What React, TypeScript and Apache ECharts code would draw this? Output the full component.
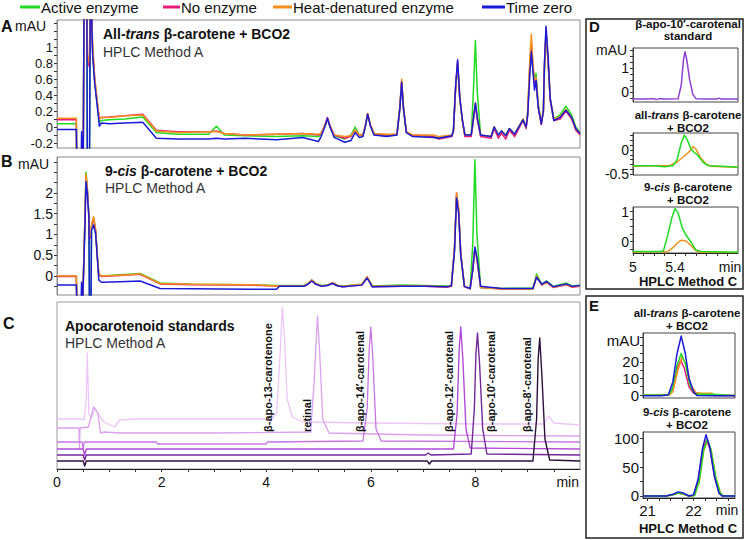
import React, { useEffect, useRef } from "react";
import * as echarts from "echarts";

// ---------------- legend / series ----------------
const seriesNames = ["Active enzyme", "No enzyme", "Heat-denatured enzyme", "Time zero"];
const seriesColors = ["#20dc20", "#ec1a78", "#f5901e", "#1a1ad8"];

// ---------------- Panel A : all-trans β-carotene + BCO2 ----------------
const timesA = [
  0, 0.37, 0.38, 0.46, 0.47, 0.5, 0.52, 0.57, 0.58, 0.62, 0.64, 0.68, 0.72, 0.78, 0.81, 0.85,
  1.0, 1.3, 1.64, 1.9, 2.3, 2.9, 3.05, 3.2, 3.6, 4.2, 4.7, 5.0,
  5.05, 5.12, 5.17, 5.22, 5.3, 5.5, 5.62, 5.7, 5.78, 5.85, 5.9, 5.94, 5.99, 6.06,
  6.3, 6.5, 6.555, 6.59, 6.625, 6.68, 6.8, 7.2, 7.3, 7.55,
  7.58, 7.62, 7.66, 7.7, 7.75, 7.8, 7.92, 7.965, 8.0, 8.035, 8.1,
  8.3, 8.36, 8.44, 8.5, 8.58, 8.65, 8.75, 8.91, 8.97,
  9.0, 9.04, 9.07, 9.1, 9.13, 9.16, 9.2, 9.26, 9.3, 9.32, 9.35, 9.39, 9.43, 9.5,
  9.62, 9.73, 9.84, 9.92, 10.0,
];
const activeA = [
  0.04, 0.04, -0.6, -0.6, -0.6, -0.6, 2, 2, -0.6, -0.6, 2, 0.95, 0.58, 0.22, 0.06, 0.08,
  0.09, 0.1, 0.125, -0.07, -0.09, -0.09, 0.01, -0.1, -0.11, -0.12, -0.11, -0.12,
  -0.1, 0.0, 0.1, 0.0, -0.11, -0.15, -0.1, 0.0, -0.1, -0.1, 0.02, 0.15, 0.02, -0.09,
  -0.11, -0.1, 0.22, 0.56, 0.22, -0.07, -0.11, -0.12, -0.13, -0.11,
  -0.05, 0.45, 0.78, 0.36, 0.08, -0.11, -0.11, 0.5, 1.08, 0.45, -0.11,
  -0.12, 0.0, -0.11, -0.05, -0.1, -0.02, -0.09, 0.1, 0.0,
  0.2, 0.75, 1.0, 0.72, 0.62, 0.67, 0.3, 0.06, 0.2, 0.7, 1.15, 0.8, 0.35, 0.1,
  0.15, 0.26, 0.15, 0.0, -0.07,
];
const noEnzA = [
  0.09, 0.09, -0.6, -0.6, -0.6, -0.6, 2, 2, 0.85, 0.75, 2, 1.0, 0.6, 0.25, 0.1, 0.12,
  0.125, 0.14, 0.16, -0.04, -0.06, -0.06, -0.05, -0.08, -0.1, -0.09, -0.08, -0.1,
  -0.08, 0.02, 0.12, 0.02, -0.1, -0.14, -0.12, -0.04, -0.1, -0.1, 0.03, 0.17, 0.03, -0.08,
  -0.1, -0.09, 0.24, 0.57, 0.24, -0.06, -0.1, -0.12, -0.15, -0.12,
  -0.06, 0.48, 0.82, 0.37, 0.08, -0.12, -0.12, 0.1, 0.28, 0.1, -0.12,
  -0.14, -0.02, -0.14, -0.08, -0.15, -0.04, -0.12, 0.08, -0.02,
  0.15, 0.75, 1.05, 0.75, 0.55, 0.6, 0.25, 0.03, 0.2, 0.75, 1.2, 0.82, 0.33, 0.08,
  0.1, 0.2, 0.1, -0.04, -0.1,
];
const heatA = [
  0.11, 0.11, -0.6, -0.6, -0.6, -0.6, 2, 2, 0.9, 0.8, 2, 1.05, 0.62, 0.26, 0.1, 0.12,
  0.12, 0.14, 0.15, -0.05, -0.07, -0.06, -0.06, -0.08, -0.1, -0.09, -0.08, -0.09,
  -0.08, 0.01, 0.1, 0.01, -0.1, -0.12, -0.11, -0.04, -0.1, -0.1, 0.03, 0.17, 0.03, -0.08,
  -0.09, -0.09, 0.25, 0.6, 0.25, -0.06, -0.1, -0.1, -0.12, -0.1,
  -0.05, 0.46, 0.8, 0.36, 0.08, -0.1, -0.1, 0.12, 0.3, 0.12, -0.1,
  -0.12, 0.0, -0.1, -0.05, -0.11, -0.02, -0.09, 0.1, 0.0,
  0.2, 0.85, 1.16, 0.8, 0.58, 0.62, 0.28, 0.05, 0.2, 0.75, 1.2, 0.84, 0.36, 0.1,
  0.13, 0.22, 0.12, -0.02, -0.08,
];
const zeroA = [
  -0.03, -0.03, -0.6, -0.6, -0.06, -0.6, 2, 2, -0.6, -0.6, 2, 0.92, 0.55, 0.2, 0.01, 0.05,
  0.04, 0.05, 0.06, -0.14, -0.15, -0.15, -0.14, -0.15, -0.14, -0.16, -0.13, -0.18,
  -0.12, 0.0, 0.11, 0.0, -0.13, -0.19, -0.17, -0.07, -0.13, -0.12, 0.02, 0.16, 0.02, -0.1,
  -0.12, -0.1, 0.23, 0.56, 0.23, -0.07, -0.12, -0.13, -0.14, -0.11,
  -0.04, 0.5, 0.84, 0.38, 0.1, -0.1, -0.1, 0.12, 0.3, 0.12, -0.1,
  -0.12, 0.0, -0.1, -0.05, -0.11, -0.02, -0.09, 0.09, 0.0,
  0.15, 0.65, 0.94, 0.7, 0.46, 0.58, 0.25, 0.04, 0.2, 0.8, 1.26, 0.88, 0.36, 0.08,
  0.12, 0.21, 0.12, -0.02, -0.08,
];
const yTicksA = [-0.2, -0.1, 0, 0.1, 0.2, 0.3, 0.4, 0.5, 0.6, 0.7, 0.8, 0.9, 1, 1.1, 1.2, 1.3];
const yLabelsA = [-0.2, 0, 0.2, 0.4, 0.6, 0.8, 1];

// ---------------- Panel B : 9-cis β-carotene + BCO2 ----------------
const timesB = [
  0, 0.37, 0.38, 0.46, 0.47, 0.49, 0.53, 0.555, 0.58, 0.61, 0.62, 0.65, 0.66, 0.7, 0.74, 0.77, 0.8, 0.85,
  1.2, 1.59, 1.97, 2.6, 3.7, 4.2, 4.25, 4.72, 4.8, 4.87, 4.95, 5.06,
  5.17, 5.27, 5.37, 5.47, 5.83, 5.93, 6.03, 6.58, 7.05, 7.45,
  7.54, 7.6, 7.64, 7.68, 7.72, 7.79, 7.9, 7.95, 7.99, 8.03, 8.1,
  8.5, 9.1, 9.17, 9.27, 9.36, 9.49, 9.74, 9.85, 10.0,
];
const activeB = [
  0.0, 0.0, -0.7, -0.7, -0.7, -0.7, 1.2, 2.5, 2.1, 1.45, -0.7, -0.7, 1.2, 1.4, 1.08, 0.48, 0.03, 0.0,
  0.03, 0.06, -0.17, -0.2, -0.21, -0.23, -0.23, -0.23, -0.17, -0.1, -0.18, -0.23,
  -0.22, -0.16, -0.23, -0.24, -0.2, -0.02, -0.24, -0.22, -0.23, -0.24,
  -0.24, 0.6, 1.95, 1.55, 0.5, -0.25, -0.3, 0.8, 2.8, 1.0, -0.28,
  -0.3, -0.29, 0.05, -0.2, -0.12, -0.25, -0.17, -0.24, -0.22,
];
const noEnzB = [
  -0.01, -0.01, -0.7, -0.7, -0.7, -0.7, 1.15, 2.4, 2.05, 1.42, 0.9, 0.95, 1.2, 1.4, 1.08, 0.48, 0.03, -0.01,
  0.01, 0.04, -0.19, -0.21, -0.22, -0.24, -0.24, -0.25, -0.19, -0.1, -0.19, -0.25,
  -0.22, -0.16, -0.24, -0.26, -0.21, -0.02, -0.26, -0.25, -0.25, -0.27,
  -0.25, 0.65, 2.0, 1.6, 0.55, -0.26, -0.31, 0.15, 0.66, 0.4, -0.28,
  -0.31, -0.31, -0.02, -0.22, -0.15, -0.28, -0.21, -0.27, -0.25,
];
const heatB = [
  0.0, 0.0, -0.7, -0.7, -0.7, -0.7, 1.2, 2.46, 2.1, 1.45, 0.95, 1.0, 1.25, 1.43, 1.1, 0.5, 0.05, 0.0,
  0.02, 0.05, -0.18, -0.2, -0.21, -0.24, -0.24, -0.24, -0.18, -0.1, -0.18, -0.24,
  -0.22, -0.16, -0.23, -0.25, -0.2, -0.02, -0.25, -0.24, -0.24, -0.26,
  -0.24, 0.7, 2.0, 1.6, 0.55, -0.25, -0.3, 0.15, 0.67, 0.4, -0.28,
  -0.32, -0.32, 0.0, -0.22, -0.15, -0.27, -0.2, -0.26, -0.24,
];
const zeroB = [
  -0.22, -0.22, -0.7, -0.7, -0.15, -0.7, 1.0, 2.27, 2.0, 1.4, -0.7, -0.7, 1.1, 1.23, 1.0, 0.45, -0.1, -0.15,
  -0.14, -0.12, -0.3, -0.31, -0.32, -0.32, -0.25, -0.25, -0.2, -0.12, -0.2, -0.25,
  -0.23, -0.18, -0.24, -0.26, -0.22, -0.05, -0.26, -0.25, -0.25, -0.26,
  -0.24, 0.6, 1.88, 1.5, 0.5, -0.25, -0.3, 0.15, 0.7, 0.45, -0.25,
  -0.3, -0.3, -0.03, -0.2, -0.13, -0.26, -0.19, -0.25, -0.23,
];
const yTicksB = [-0.25, 0, 0.25, 0.5, 0.75, 1, 1.25, 1.5, 1.75, 2, 2.25, 2.5, 2.75];
const yLabelsB = [0, 0.5, 1, 1.5, 2];

// ---------------- Panel C : apocarotenoid standards (stacked traces) ----------------
const standardNames = [
  "β-apo-13-carotenone", "retinal", "β-apo-14′-carotenal",
  "β-apo-12′-carotenal", "β-apo-10′-carotenal", "β-apo-8′-carotenal",
];
const timesC13 = [0, 0.45, 0.52, 0.56, 0.58, 0.61, 0.66, 0.73, 0.8, 0.9, 1.1, 1.2, 1.5, 3.0, 4.1, 4.2, 4.26, 4.31, 4.35, 4.4, 4.5, 4.7, 6, 8, 9.3, 9.4, 9.5, 10];
const valuesC13 = [50, 50, 49, 70, 116, 55, 51, 61, 54, 47, 42, 49, 50, 50, 50, 56, 110, 162, 130, 70, 52, 47, 46, 45, 45, 53, 46, 44];
const timesCret = [0, 0.42, 0.43, 0.44, 0.6, 0.7, 0.78, 0.83, 0.9, 1.2, 3, 4.85, 4.92, 4.98, 5.02, 5.08, 5.2, 7, 10];
const valuesCret = [41, 41, 20, 41, 42, 62, 56, 36, 37, 36, 36, 37, 90, 153, 120, 50, 36, 34, 33];
const timesC14 = [0, 0.48, 0.5, 0.52, 1.9, 1.92, 4.0, 4.02, 5.85, 5.93, 5.97, 6.0, 6.04, 6.1, 6.2, 10];
const valuesC14 = [27, 27, 20, 27, 27, 25, 25, 27, 28, 60, 120, 142, 110, 40, 28, 27];
const timesC12 = [0, 0.5, 0.53, 0.56, 7.58, 7.65, 7.69, 7.72, 7.76, 7.82, 7.9, 10];
const valuesC12 = [20, 20, 14, 20, 20, 55, 120, 142, 110, 40, 21, 20];
const timesC10 = [0, 0.5, 0.53, 0.56, 7.05, 7.1, 7.15, 7.92, 7.98, 8.01, 8.04, 8.08, 8.14, 8.22, 10];
const valuesC10 = [14, 14, 9, 14, 14, 16, 14, 15, 60, 115, 136, 105, 40, 15, 14];
const timesC8 = [0, 0.5, 0.53, 0.56, 7.08, 7.12, 7.16, 9.1, 9.17, 9.2, 9.23, 9.27, 9.33, 9.42, 10];
const valuesC8 = [8, 8, 3, 8, 8, 5, 8, 8, 50, 110, 131, 95, 30, 9, 8];
const standardColors = ["#edc6f8", "#dba0ee", "#c773e2", "#b24bd8", "#73289a", "#2c0f3c"];
const xLabelsC = [0, 2, 4, 6, 8];
const xTicksC = [0, 0.5, 1, 1.5, 2, 2.5, 3, 3.5, 4, 4.5, 5, 5.5, 6, 6.5, 7, 7.5, 8, 8.5, 9, 9.5];

// ---------------- Panel D : HPLC Method C, 5–6 min ----------------
const timesD1 = [5.0, 5.1, 5.2, 5.22, 5.25, 5.3, 5.43, 5.46, 5.48, 5.495, 5.51, 5.54, 5.57, 5.6, 5.7, 5.8, 5.82, 5.84, 6.0];
const valuesD1 = [-0.3, -0.3, -0.28, -0.32, -0.28, -0.3, -0.28, 0.3, 1.3, 1.67, 1.4, 0.5, -0.1, -0.28, -0.3, -0.3, -0.26, -0.3, -0.3];
const timesD2Active = [5.0, 5.2, 5.3, 5.38, 5.42, 5.46, 5.49, 5.52, 5.55, 5.58, 5.62, 5.67, 5.72, 5.85, 6.0];
const valuesD2Active = [-0.33, -0.33, -0.35, -0.33, -0.2, 0.15, 0.31, 0.2, 0.03, -0.04, -0.12, -0.26, -0.33, -0.34, -0.36];
const timesD2Heat = [5.0, 5.2, 5.35, 5.42, 5.48, 5.53, 5.57, 5.6, 5.64, 5.7, 5.75, 5.85, 6.0];
const valuesD2Heat = [-0.34, -0.33, -0.32, -0.25, -0.14, -0.05, 0.07, 0.02, -0.15, -0.3, -0.34, -0.35, -0.36];
const timesD3Active = [5.0, 5.25, 5.29, 5.33, 5.37, 5.4, 5.43, 5.47, 5.5, 5.55, 5.6, 5.65, 6.0];
const valuesD3Active = [-0.33, -0.33, -0.3, 0.2, 0.8, 1.11, 0.95, 0.45, 0.25, 0.0, -0.28, -0.33, -0.35];
const timesD3Heat = [5.0, 5.33, 5.38, 5.43, 5.46, 5.5, 5.55, 5.6, 5.65, 6.0];
const valuesD3Heat = [-0.34, -0.33, -0.2, -0.02, 0.05, 0.03, -0.12, -0.3, -0.35, -0.36];
const yTicksD1 = [-0.25, 0, 0.25, 0.5, 0.75, 1, 1.25, 1.5, 1.75];
const yLabelsD1 = [0, 1];
const yTicksD2 = [-0.5, -0.4, -0.3, -0.2, -0.1, 0, 0.1, 0.2, 0.3];
const yLabelsD2 = [-0.5, 0];
const yTicksD3 = [-0.25, 0, 0.25, 0.5, 0.75, 1];
const yLabelsD3 = [0, 1];
const xTicksD = [5, 5.1, 5.2, 5.3, 5.4, 5.5, 5.6, 5.7, 5.8, 5.9];
const xLabelsD = [5, 5.4];

// ---------------- Panel E : HPLC Method C, 21–23 min ----------------
const timesE1Zero = [20.9, 21.3, 21.45, 21.55, 21.64, 21.73, 21.82, 21.9, 22.0, 22.07, 22.4, 22.9];
const valuesE1Zero = [-0.5, -0.5, 0, 8, 25, 35.5, 25, 10, 2, -0.3, -0.5, -0.5];
const timesE1Active = [20.9, 21.45, 21.53, 21.63, 21.73, 21.82, 21.92, 22.02, 22.1, 22.4, 22.9];
const valuesE1Active = [0, 0, 3, 17, 25, 19, 6, 1, 0.5, 0.5, -0.3];
const timesE1Heat = [20.9, 21.47, 21.55, 21.65, 21.75, 21.84, 21.94, 22.05, 22.15, 22.4, 22.45, 22.9];
const valuesE1Heat = [0, 0, 2, 14, 23, 18, 6, 1.5, 1, 1, -0.3, -0.3];
const timesE1NoEnz = [20.9, 21.45, 21.53, 21.63, 21.72, 21.8, 21.9, 22.0, 22.1, 22.4, 22.45, 22.9];
const valuesE1NoEnz = [0, 0, 3, 15, 21, 16, 5, 1, 0.8, 0.8, -0.3, -0.3];
const timesE2Zero = [20.9, 21.4, 21.55, 21.66, 21.78, 21.9, 22.0, 22.1, 22.2, 22.27, 22.35, 22.45, 22.55, 22.62, 22.9];
const valuesE2Zero = [0, 0, 3, 7, 5, 0, 2, 30, 85, 106, 85, 35, 5, 0, 0];
const timesE2Active = [20.9, 21.4, 21.55, 21.67, 21.8, 21.92, 22.02, 22.12, 22.22, 22.3, 22.38, 22.48, 22.58, 22.65, 22.9];
const valuesE2Active = [0, 0, 2, 5, 3, 0, 1, 25, 80, 98, 80, 32, 5, 0, 0];
const valuesE2Heat = [0, 0, 2, 5, 3, 0, 1, 24, 78, 96, 80, 33, 6, 0, 0];
const timesE2NoEnz = [20.9, 21.4, 21.55, 21.66, 21.78, 21.9, 22.0, 22.1, 22.2, 22.28, 22.36, 22.46, 22.56, 22.63, 22.9];
const valuesE2NoEnz = [0, 0, 2, 5, 3, 0, 1, 26, 82, 97, 80, 32, 5, 0, 0];
const yTicksE1 = [0, 5, 10, 15, 20, 25, 30, 35];
const yLabelsE1 = [0, 10, 20];
const yTicksE2 = [0, 25, 50, 75, 100];
const yLabelsE2 = [0, 50, 100];
const xTicksE = [21, 21.25, 21.5, 21.75, 22, 22.25, 22.5, 22.75];
const xLabelsE = [21, 22];

// ---------------- helpers ----------------
const F = '"Liberation Sans", Arial, Helvetica, sans-serif';
const pts = (t: number[], v: number[]) => t.map((x, i) => [x, v[i]]);

function yAxis(grid: number, min: number, max: number, ticks: number[] | null, labels: number[] | null, fontSize: number, lineColor: string, margin = 3): any {
  if (!ticks) return { type: "value", gridIndex: grid, min, max, show: false };
  return {
    type: "value", gridIndex: grid, min, max,
    axisLine: { show: true, lineStyle: { color: lineColor, width: 1 } },
    axisTick: { show: true, inside: false, length: 3, customValues: ticks, lineStyle: { color: "#333", width: 1 } },
    axisLabel: { show: true, customValues: labels, fontSize, fontFamily: F, color: "#111", margin, formatter: (v: number) => String(v) },
    splitLine: { show: false },
  };
}
function xAxis(grid: number, min: number, max: number, ticks: number[] | null, labels: number[] | null, fontSize = 14, margin = 6): any {
  if (!ticks) return { type: "value", gridIndex: grid, min, max, show: false };
  return {
    type: "value", gridIndex: grid, min, max,
    axisLine: { show: true, onZero: false, lineStyle: { color: "#222", width: 1 } },
    axisTick: { show: true, inside: false, length: 3, customValues: ticks, lineStyle: { color: "#333", width: 1 } },
    axisLabel: { show: true, customValues: labels, fontSize, fontFamily: F, color: "#111", margin, formatter: (v: number) => String(v) },
    splitLine: { show: false },
  };
}
function line(idx: number, name: string, data: number[][], color: string, width = 1.2, z = 2): any {
  return {
    type: "line", name, xAxisIndex: idx, yAxisIndex: idx, data,
    showSymbol: false, symbol: "none", silent: true, clip: true, z,
    lineStyle: { color, width, join: "round" }, itemStyle: { color }, emphasis: { disabled: true },
  };
}
function txt(x: number, y: number, text: string, o: any = {}): any {
  const align = o.align || "left";
  return {
    type: "text", x, y, silent: true, rotation: o.rot || 0, z: 10,
    style: {
      text, fontFamily: F, fontSize: o.size || 14, fontWeight: o.weight || "normal",
      fontStyle: o.style || "normal", fill: o.color || "#111",
      align, textAlign: align, verticalAlign: "middle", textVerticalAlign: "middle",
      rich: o.rich,
    },
  };
}
const richStyles = (size: number) => ({
  b: { fontFamily: F, fontSize: size, fontWeight: "bold", fill: "#111", color: "#111" },
  bi: { fontFamily: F, fontSize: size, fontWeight: "bold", fontStyle: "italic", fill: "#111", color: "#111" },
});

function buildOption(): any {
  const grids = [
    { left: 57, top: 20, width: 523, height: 128, border: "#8c8c8c" }, // A
    { left: 57, top: 157, width: 523, height: 138, border: "#8c8c8c" }, // B
    { left: 57, top: 302, width: 523, height: 167, border: "#9a9a9a" }, // C
    { left: 633, top: 48, width: 105, height: 54, border: "#444" }, // D1
    { left: 633, top: 133, width: 105, height: 42, border: "#444" }, // D2
    { left: 633, top: 207, width: 105, height: 46, border: "#444" }, // D3
    { left: 643, top: 333, width: 92, height: 65, border: "#444" }, // E1
    { left: 643, top: 432, width: 92, height: 66, border: "#444" }, // E2
  ];
  const [cA, cN, cH, cZ] = [seriesColors[0], seriesColors[1], seriesColors[2], seriesColors[3]];

  const series: any[] = [
    // A
    line(0, seriesNames[0], pts(timesA, activeA), cA, 1.5),
    line(0, seriesNames[1], pts(timesA, noEnzA), cN, 1.5),
    line(0, seriesNames[2], pts(timesA, heatA), cH, 1.5),
    line(0, seriesNames[3], pts(timesA, zeroA), cZ, 1.5),
    // B
    line(1, seriesNames[0], pts(timesB, activeB), cA, 1.5),
    line(1, seriesNames[1], pts(timesB, noEnzB), cN, 1.5),
    line(1, seriesNames[2], pts(timesB, heatB), cH, 1.5),
    line(1, seriesNames[3], pts(timesB, zeroB), cZ, 1.5),
    // C
    line(2, standardNames[0], pts(timesC13, valuesC13), standardColors[0], 1.3),
    line(2, standardNames[1], pts(timesCret, valuesCret), standardColors[1], 1.3),
    line(2, standardNames[2], pts(timesC14, valuesC14), standardColors[2], 1.3),
    line(2, standardNames[3], pts(timesC12, valuesC12), standardColors[3], 1.4),
    line(2, standardNames[4], pts(timesC10, valuesC10), standardColors[4], 1.4),
    line(2, standardNames[5], pts(timesC8, valuesC8), standardColors[5], 1.4),
    // D
    line(3, "β-apo-10′-carotenal standard", pts(timesD1, valuesD1), "#8e3fd2", 1.5),
    line(4, seriesNames[2], pts(timesD2Heat, valuesD2Heat), cH, 1.5),
    line(4, seriesNames[0], pts(timesD2Active, valuesD2Active), cA, 1.5),
    line(5, seriesNames[2], pts(timesD3Heat, valuesD3Heat), cH, 1.5),
    line(5, seriesNames[0], pts(timesD3Active, valuesD3Active), cA, 1.5),
    // E
    line(6, seriesNames[1], pts(timesE1NoEnz, valuesE1NoEnz), cN, 1.5),
    line(6, seriesNames[2], pts(timesE1Heat, valuesE1Heat), cH, 1.5),
    line(6, seriesNames[0], pts(timesE1Active, valuesE1Active), cA, 1.5),
    line(6, seriesNames[3], pts(timesE1Zero, valuesE1Zero), cZ, 1.5),
    line(7, seriesNames[1], pts(timesE2NoEnz, valuesE2NoEnz), cN, 1.5),
    line(7, seriesNames[2], pts(timesE2Active, valuesE2Heat), cH, 1.5),
    line(7, seriesNames[0], pts(timesE2Active, valuesE2Active), cA, 1.5),
    line(7, seriesNames[3], pts(timesE2Zero, valuesE2Zero), cZ, 1.5),
  ];

  const graphics: any[] = [];
  // legend
  const legendX = [20, 163, 273, 482];
  const legendLen = [20, 17, 19, 23];
  seriesNames.forEach((n, i) => {
    graphics.push({ type: "line", silent: true, shape: { x1: legendX[i], y1: 7, x2: legendX[i] + legendLen[i], y2: 7 }, style: { stroke: seriesColors[i], lineWidth: 3 } });
    graphics.push(txt(legendX[i] + legendLen[i] + 1, 7, n, { size: 15 }));
  });
  // panel letters / unit labels
  graphics.push(txt(1, 26, "A", { size: 16, weight: "bold" }));
  graphics.push(txt(15, 26, "mAU", { size: 14 }));
  graphics.push(txt(1, 161, "B", { size: 16, weight: "bold" }));
  graphics.push(txt(18, 164, "mAU", { size: 14 }));
  graphics.push(txt(3, 323, "C", { size: 16, weight: "bold" }));
  graphics.push(txt(589, 26, "D", { size: 15, weight: "bold" }));
  graphics.push(txt(589, 305, "E", { size: 15, weight: "bold" }));
  // titles
  graphics.push(txt(103, 34, "{b|All-}{bi|trans}{b| β-carotene + BCO2}", { rich: richStyles(14) }));
  graphics.push(txt(103, 52, "HPLC Method A", { size: 14, color: "#333" }));
  graphics.push(txt(105, 171, "{b|9-}{bi|cis}{b| β-carotene + BCO2}", { rich: richStyles(14) }));
  graphics.push(txt(105, 188, "HPLC Method A", { size: 14, color: "#333" }));
  graphics.push(txt(65, 326, "Apocarotenoid standards", { size: 14, weight: "bold" }));
  graphics.push(txt(65, 343, "HPLC Method A", { size: 14, color: "#333" }));
  graphics.push(txt(579, 482, "min", { size: 14, align: "right" }));
  // standard labels (rotated)
  const stdLabelX = [268, 307, 360, 449, 491, 527];
  standardNames.forEach((n, i) => {
    graphics.push(txt(stdLabelX[i], 432, n, { size: 11, weight: "bold", rot: Math.PI / 2 }));
  });
  // D / E boxes
  graphics.push({ type: "rect", silent: true, shape: { x: 586, y: 19, width: 157, height: 270 }, style: { fill: "none", stroke: "#222", lineWidth: 1.5 } });
  graphics.push({ type: "rect", silent: true, shape: { x: 586, y: 296, width: 157, height: 242 }, style: { fill: "none", stroke: "#222", lineWidth: 1.5 } });
  graphics.push(txt(688, 24, "β-apo-10′-carotenal", { size: 11.5, weight: "bold", align: "center" }));
  graphics.push(txt(688, 36, "standard", { size: 11.5, weight: "bold", align: "center" }));
  graphics.push(txt(596, 50, "mAU", { size: 14 }));
  graphics.push(txt(688, 115, "{b|all-}{bi|trans}{b| β-carotene}", { align: "center", rich: richStyles(11.5) }));
  graphics.push(txt(688, 128, "+ BCO2", { size: 11.5, weight: "bold", align: "center" }));
  graphics.push(txt(688, 187, "{b|9-}{bi|cis}{b| β-carotene}", { align: "center", rich: richStyles(11.5) }));
  graphics.push(txt(688, 200, "+ BCO2", { size: 11.5, weight: "bold", align: "center" }));
  graphics.push(txt(730, 267, "min", { size: 14, align: "center" }));
  graphics.push(txt(688, 281, "HPLC Method C", { size: 13, weight: "bold", align: "center" }));
  // E texts
  graphics.push(txt(687, 313, "{b|all-}{bi|trans}{b| β-carotene}", { align: "center", rich: richStyles(11.5) }));
  graphics.push(txt(687, 326, "+ BCO2", { size: 11.5, weight: "bold", align: "center" }));
  graphics.push(txt(640, 340, "mAU", { size: 15, align: "right" }));
  graphics.push(txt(687, 412, "{b|9-}{bi|cis}{b| β-carotene}", { align: "center", rich: richStyles(11.5) }));
  graphics.push(txt(687, 425, "+ BCO2", { size: 11.5, weight: "bold", align: "center" }));
  graphics.push(txt(727, 510, "min", { size: 14, align: "center" }));
  graphics.push(txt(688, 528, "HPLC Method C", { size: 13, weight: "bold", align: "center" }));

  return {
    animation: false,
    backgroundColor: "#ffffff",
    grid: grids.map((g) => ({ left: g.left, top: g.top, width: g.width, height: g.height, show: true, borderColor: g.border, borderWidth: 1, backgroundColor: "transparent" })),
    xAxis: [
      xAxis(0, 0, 10, null, null),
      xAxis(1, 0, 10, null, null),
      xAxis(2, 0, 10, xTicksC, xLabelsC, 14, 6),
      xAxis(3, 5, 6, null, null),
      xAxis(4, 5, 6, null, null),
      xAxis(5, 5, 6, xTicksD, xLabelsD, 14, 7),
      xAxis(6, 20.9, 22.9, null, null),
      xAxis(7, 20.9, 22.9, xTicksE, xLabelsE, 15, 5),
    ],
    yAxis: [
      yAxis(0, -0.2625, 1.3375, yTicksA, yLabelsA, 13, "#8c8c8c", 4),
      yAxis(1, -0.458, 2.867, yTicksB, yLabelsB, 14, "#8c8c8c", 4),
      yAxis(2, 0, 167, null, null, 14, "#999"),
      yAxis(3, -0.42, 1.83, yTicksD1, yLabelsD1, 14, "#444", 4),
      yAxis(4, -0.52, 0.354, yTicksD2, yLabelsD2, 14, "#444", 4),
      yAxis(5, -0.377, 1.157, yTicksD3, yLabelsD3, 14, "#444", 4),
      yAxis(6, -1.8, 37.35, yTicksE1, yLabelsE1, 15, "#444", 4),
      yAxis(7, -3.5, 110.9, yTicksE2, yLabelsE2, 15, "#444", 4),
    ],
    series,
    graphic: { elements: graphics },
  };
}

export default function App() {
  const ref = useRef<HTMLDivElement>(null);
  useEffect(() => {
    if (!ref.current) return;
    const chart = echarts.init(ref.current, undefined, { renderer: "svg" });
    chart.setOption(buildOption());
    return () => chart.dispose();
  }, []);
  return (
    <div
      ref={ref}
      style={{ position: "fixed", left: 0, top: 0, width: 745, height: 540, background: "#fff" }}
    />
  );
}
